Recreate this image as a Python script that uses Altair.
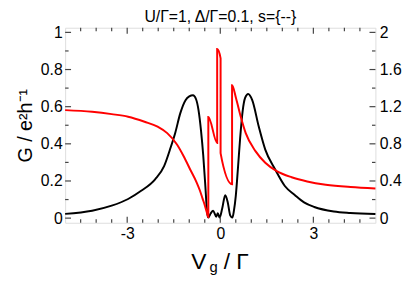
import altair as alt
import pandas as pd

# ---- data ----
v_black = [-5.0, -4.13, -3.5, -2.97, -2.55, -2.1, -1.81, -1.6, -1.45, -1.29, -1.12, -1.0, -0.88,
           -0.78, -0.7, -0.62, -0.55, -0.48, -0.43, -0.39, -0.31, -0.23, -0.13, -0.08, -0.02,
           0.06, 0.16, 0.24, 0.32, 0.39, 0.44, 0.5, 0.57, 0.64, 0.72, 0.8, 0.9, 1.03, 1.24,
           1.45, 1.77, 2.08, 2.4, 2.7, 3.03, 3.66, 4.19, 5.0]
g_black = [0.023, 0.040, 0.067, 0.103, 0.147, 0.209, 0.28, 0.38, 0.46, 0.564, 0.635, 0.655, 0.661,
           0.64, 0.58, 0.47, 0.34, 0.17, 0.04, 0.003, 0.025, 0.040, 0.008, 0.026, 0.003,
           0.05, 0.123, 0.086, 0.015, 0.003, 0.04, 0.12, 0.27, 0.43, 0.575, 0.647, 0.668, 0.635, 0.493,
           0.369, 0.262, 0.173, 0.125, 0.085, 0.060, 0.036, 0.028, 0.022]

v_red = [-5.0, -4.13, -3.5, -2.97, -2.44, -2.02, -1.71, -1.39, -1.18, -0.97, -0.76, -0.66, -0.57,
         -0.5, -0.44, -0.385, -0.385, -0.1, -0.1, 0.01, 0.01, 0.38, 0.38, 0.51, 0.66, 0.82,
         1.14, 1.45, 1.82, 2.3, 2.8, 3.4, 4.2, 5.0]
r_red = [1.163, 1.145, 1.12, 1.092, 1.038, 0.985, 0.915, 0.79, 0.666, 0.524, 0.383, 0.30, 0.21,
         0.14, 0.07, 0.01, 1.09, 0.81, 1.82, 1.72, 0.70, 0.365, 1.43, 1.287, 1.091, 0.915,
         0.719, 0.596, 0.506, 0.44, 0.395, 0.36, 0.335, 0.32]

x_major = [-3, 0, 3]
x_minor = [-4.5, -4, -3.5, -2.5, -2, -1.5, -1, -0.5, 0.5, 1, 1.5, 2, 2.5, 3.5, 4, 4.5]
yl_major = [0, 0.2, 0.4, 0.6, 0.8, 1.0]
yl_minor = [0.1, 0.3, 0.5, 0.7, 0.9]
yr_major = [0, 0.4, 0.8, 1.2, 1.6, 2.0]
yr_minor = [0.2, 0.6, 1.0, 1.4, 1.8]

title_text = "U/Γ=1, Δ/Γ=0.1, s={--}"
ytitle = "G / e²h⁻¹"

FONT = "Liberation Sans"
W, H = 315, 198
FRAME = "#444444"
LBL = 16

xscale = alt.Scale(domain=[-5, 5], nice=False, zero=False)
ylscale = alt.Scale(domain=[-0.025, 1.025], nice=False, zero=False)
yrscale = alt.Scale(domain=[-0.05, 2.05], nice=False, zero=False)

x_axis = alt.Axis(values=x_major, ticks=False, domain=False, grid=False,
                  labelFontSize=LBL, labelPadding=3, title=None,
                  labelExpr="datum.value < 0 ? '-' + abs(datum.value) : '' + datum.value")
yl_axis = alt.Axis(values=yl_major, ticks=False, domain=False, grid=False,
                   labelFontSize=LBL, labelPadding=3, format=".1~f",
                   title=ytitle, titleFontSize=20, titleFontWeight="normal", titlePadding=5)
yr_axis = alt.Axis(orient="right", values=yr_major, ticks=False, domain=False, grid=False,
                   labelFontSize=LBL, labelPadding=4, format=".1~f", title=None)

df_b = pd.DataFrame({"v": v_black, "g": g_black})
df_r = pd.DataFrame({"v": v_red, "r": r_red, "i": list(range(len(v_red)))})

black = alt.Chart(df_b).mark_line(color="black", strokeWidth=2, interpolate="monotone").encode(
    x=alt.X("v:Q", scale=xscale, axis=x_axis),
    y=alt.Y("g:Q", scale=ylscale, axis=yl_axis),
)

red = alt.Chart(df_r).mark_line(color="#ff0000", strokeWidth=2, interpolate="monotone").encode(
    x=alt.X("v:Q", scale=xscale, axis=x_axis),
    y=alt.Y("r:Q", scale=yrscale, axis=yr_axis),
    order=alt.Order("i:Q"),
)


def xticks(vals, length, top):
    df = pd.DataFrame({"v": vals})
    if top:
        yy, yy2 = alt.value(0), alt.value(length)
    else:
        yy, yy2 = alt.value(H), alt.value(H - length)
    return alt.Chart(df).mark_rule(color=FRAME, strokeWidth=1.2).encode(
        x=alt.X("v:Q", scale=xscale, axis=x_axis), y=yy, y2=yy2)


def yticks(vals, length, field, scale, axis, right):
    df = pd.DataFrame({field: vals})
    if right:
        xx, xx2 = alt.value(W), alt.value(W - length)
    else:
        xx, xx2 = alt.value(0), alt.value(length)
    return alt.Chart(df).mark_rule(color=FRAME, strokeWidth=1.2).encode(
        y=alt.Y(f"{field}:Q", scale=scale, axis=axis), x=xx, x2=xx2)


one = pd.DataFrame({"a": [0]})


def label(txt, x, y, size):
    return alt.Chart(one).mark_text(font=FONT, fontSize=size, align="left",
                                    baseline="alphabetic", color="black").encode(
        x=alt.value(x), y=alt.value(y), text=alt.value(txt))


left = alt.layer(
    black,
    xticks(x_major, 6, False), xticks(x_minor, 3.5, False),
    xticks(x_major, 6, True), xticks(x_minor, 3.5, True),
    yticks(yl_major, 6, "g", ylscale, yl_axis, False),
    yticks(yl_minor, 3.5, "g", ylscale, yl_axis, False),
    label("V", 128, 244.5, 23), label("g", 146.5, 248, 15), label("/ Γ", 161, 244.5, 23),
)
right = alt.layer(
    red,
    yticks(yr_major, 6, "r", yrscale, yr_axis, True),
    yticks(yr_minor, 3.5, "r", yrscale, yr_axis, True),
)

chart = alt.layer(left, right).resolve_scale(y="independent").properties(
    width=W, height=H,
    title=alt.TitleParams(text=title_text, fontSize=16, font=FONT, fontWeight="normal",
                          anchor="middle", offset=0, color="black"),
    autosize=alt.AutoSizeParams(type="none"),
    padding={"left": 58, "top": 18, "right": 28, "bottom": 52},
).configure_view(stroke=FRAME, strokeWidth=1.6).configure_axis(
    labelFont=FONT, titleFont=FONT, labelColor="black", titleColor="black"
).configure(background="white")

chart.save("out.html", embed_options={"renderer": "svg", "actions": False})
